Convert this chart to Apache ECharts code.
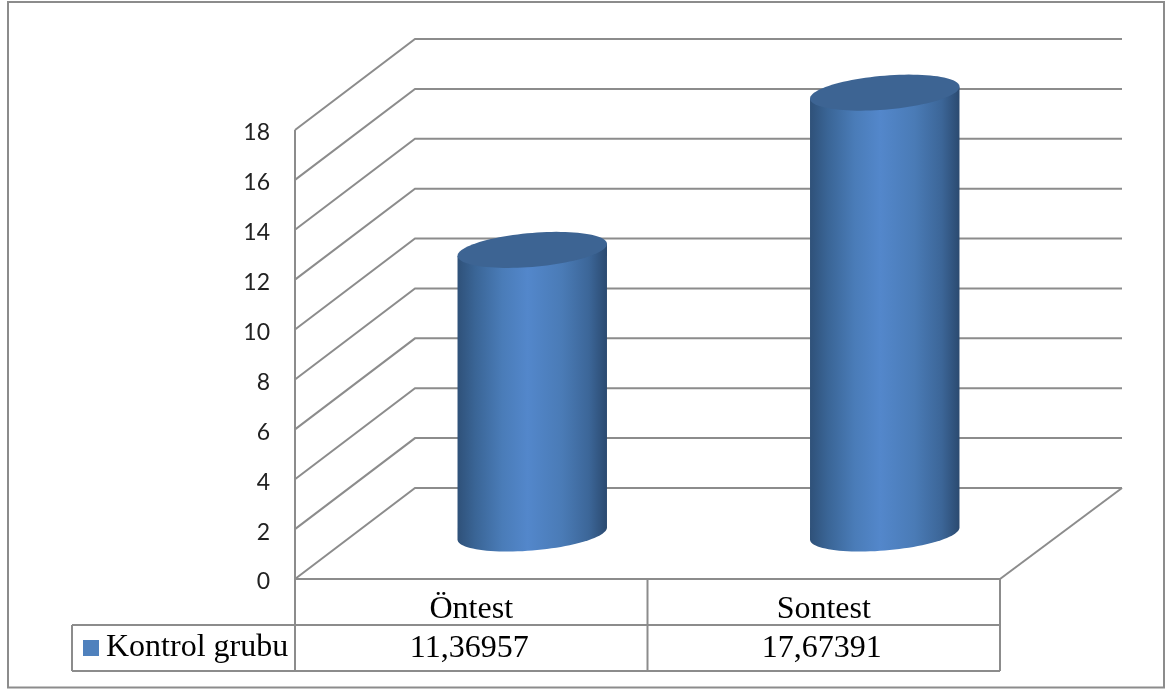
<!DOCTYPE html>
<html>
<head>
<meta charset="utf-8">
<title>Kontrol grubu</title>
<script src="https://cdn.jsdelivr.net/npm/echarts@6/dist/echarts.min.js"></script>
<style>
  html, body { margin: 0; padding: 0; background: #fff; }
  #chart { width: 1167px; height: 689px; }
</style>
</head>
<body>
<div id="chart"></div>
<script>
// Chart values
const categories = ['Öntest', 'Sontest'];
const seriesName = 'Kontrol grubu';
const controlValues = [11.36957, 17.67391];
const tickValues = [0, 2, 4, 6, 8, 10, 12, 14, 16, 18];

// Oblique projection of the 3D box: how far the back wall sits from the front plane
const depthLeftX = 120;
const depthRightX = 122;
const depthY = 91;
const lineColor = '#8c8c8c';
const lineWidth = 2;

const chart = echarts.init(document.getElementById('chart'), null, { renderer: 'canvas' });

// Sheared ellipse outline, used for the cylinder caps
function capPoint(cx, cy, rx, ry, shear, t) {
  return [cx + rx * Math.cos(t), cy - shear * Math.cos(t) + ry * Math.sin(t)];
}

// Gridlines running along the left wall and then across the back wall
function renderWall(params, api) {
  const sys = params.coordSys;
  const y = api.coord([0, api.value(1)])[1];
  const x0 = sys.x;
  const x1 = sys.x + sys.width;
  return {
    type: 'polyline',
    silent: true,
    shape: { points: [[x0, y], [x0 + depthLeftX, y - depthY], [x1 + depthRightX, y - depthY]] },
    style: { stroke: lineColor, lineWidth: lineWidth, fill: null }
  };
}

// Floor edge on the right side plus the data table rules under the plot
function renderFrame(params) {
  const sys = params.coordSys;
  const left = sys.x;
  const right = sys.x + sys.width;
  const base = sys.y + sys.height;
  const mid = (left + right) / 2;
  const rowOne = base + 46;
  const rowTwo = base + 92;
  const legendLeft = 72;
  const stroke = { stroke: lineColor, lineWidth: lineWidth, fill: null };
  const seg = (a, b) => ({ type: 'polyline', silent: true, shape: { points: [a, b] }, style: stroke });
  return {
    type: 'group',
    children: [
      seg([right, base], [right + depthRightX, base - depthY]),
      seg([left, base], [right, base]),
      seg([left, sys.y], [left, rowTwo]),
      seg([right, base], [right, rowTwo]),
      seg([mid, base], [mid, rowTwo]),
      seg([legendLeft, rowOne], [right, rowOne]),
      seg([legendLeft, rowTwo], [right, rowTwo]),
      seg([legendLeft, rowOne], [legendLeft, rowTwo])
    ]
  };
}

// One cylinder standing halfway into the box, with its value in the table row below
function renderCylinder(params, api) {
  const sys = params.coordSys;
  const idx = api.value(0);
  const value = api.value(1);
  const top = api.coord([idx, value]);
  const bottom = api.coord([idx, 0]);
  const band = api.size([1, 0])[0];
  const rx = band * 0.212;
  const ry = 17;
  const shear = 6;
  const cx = top[0] + depthRightX / 2;
  const topY = top[1] - depthY / 2;
  const botY = bottom[1] - depthY / 2;

  const bodyPoints = [];
  bodyPoints.push([cx + rx, topY - shear]);
  bodyPoints.push([cx - rx, topY + shear]);
  for (let i = 0; i <= 48; i++) {
    const t = Math.PI - (Math.PI * i) / 48;
    bodyPoints.push(capPoint(cx, botY, rx, ry, shear, t));
  }
  const capPoints = [];
  for (let i = 0; i < 96; i++) {
    capPoints.push(capPoint(cx, topY, rx, ry, shear, (Math.PI * 2 * i) / 96));
  }

  return {
    type: 'group',
    children: [
      {
        type: 'polygon',
        shape: { points: bodyPoints },
        style: {
          fill: {
            type: 'linear', x: 0, y: 0, x2: 1, y2: 0,
            colorStops: [
              { offset: 0, color: '#2f5179' },
              { offset: 0.12, color: '#3a6596' },
              { offset: 0.3, color: '#4a7cb8' },
              { offset: 0.47, color: '#5387cb' },
              { offset: 0.7, color: '#4a7bb6' },
              { offset: 0.88, color: '#3c6698' },
              { offset: 1, color: '#2b4a70' }
            ]
          }
        }
      },
      {
        type: 'polygon',
        shape: { points: capPoints },
        style: { fill: '#3d6493' }
      },
      {
        type: 'text',
        silent: true,
        x: top[0] - 2,
        y: sys.y + sys.height + 70,
        style: {
          text: value.toFixed(5).replace('.', ','),
          fill: '#000',
          font: '32px "Liberation Serif"',
          align: 'center',
          verticalAlign: 'middle'
        }
      }
    ]
  };
}

chart.setOption({
  backgroundColor: '#fff',
  animation: false,
  grid: { left: 295, right: 167, top: 130, bottom: 110, containLabel: false },
  graphic: [{
    type: 'rect',
    silent: true,
    z: -1,
    shape: { x: 8, y: 2, width: 1156, height: 685.5 },
    style: { fill: '#fff', stroke: lineColor, lineWidth: lineWidth }
  }],
  legend: {
    left: 77,
    top: 628,
    icon: 'rect',
    itemWidth: 16,
    itemHeight: 16,
    padding: [4, 6],
    data: [{ name: seriesName, itemStyle: { color: '#4f81bd' } }],
    textStyle: { fontFamily: 'Liberation Serif', fontSize: 32, color: '#000', padding: [3, 0, 0, 2] }
  },
  xAxis: {
    type: 'category',
    data: categories,
    axisLine: { show: false },
    axisTick: { show: false },
    splitLine: { show: false },
    axisLabel: {
      interval: 0,
      margin: 15,
      fontFamily: 'Liberation Serif',
      fontSize: 32,
      color: '#000'
    }
  },
  yAxis: {
    type: 'value',
    min: 0,
    max: 18,
    interval: 2,
    axisLine: { show: false },
    axisTick: { show: false },
    splitLine: { show: false },
    axisLabel: {
      margin: 25,
      fontFamily: 'Lato',
      fontSize: 23,
      color: '#222',
      verticalAlign: 'top',
      lineHeight: 6
    }
  },
  series: [
    {
      name: 'walls',
      type: 'custom',
      z: 1,
      silent: true,
      renderItem: renderWall,
      encode: { x: 0, y: 1 },
      data: tickValues.map(t => [0, t])
    },
    {
      name: 'frame',
      type: 'custom',
      z: 1,
      silent: true,
      renderItem: renderFrame,
      encode: { x: 0, y: 1 },
      data: [[0, 0]]
    },
    {
      name: seriesName,
      type: 'custom',
      z: 2,
      renderItem: renderCylinder,
      itemStyle: { color: '#4f81bd' },
      encode: { x: 0, y: 1 },
      data: controlValues.map((v, i) => [i, v])
    }
  ]
});
</script>
</body>
</html>
